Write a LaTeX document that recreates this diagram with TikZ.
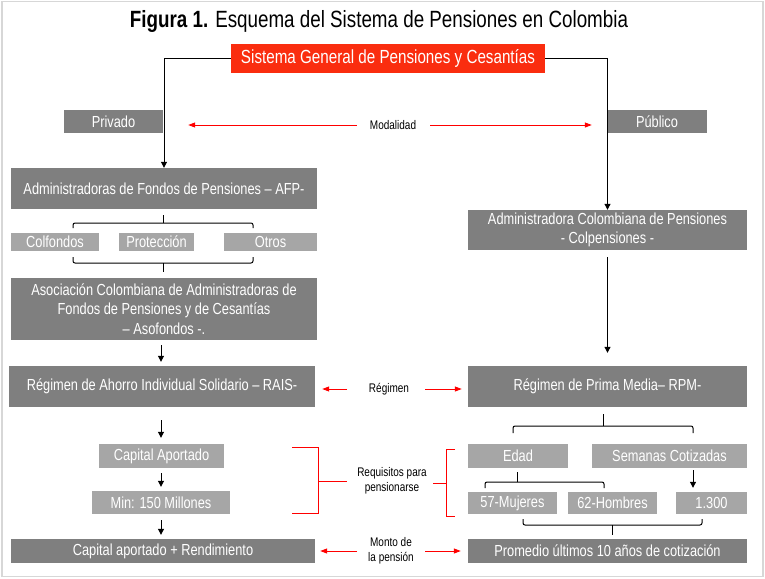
\documentclass[tikz,border=0pt]{standalone}
\usepackage{fontspec}
\setmainfont[FakeStretch=0.80]{Liberation Sans}
\usetikzlibrary{arrows.meta,calc}
\definecolor{dg}{RGB}{127,127,127}
\definecolor{lg}{RGB}{166,166,166}
\definecolor{rbox}{RGB}{250,45,15}
\definecolor{frame}{RGB}{215,215,215}
\begin{document}
\begin{tikzpicture}[x=1pt,y=-1pt,
  box/.style={fill=dg,text=white,inner sep=0pt,align=center,font=\fontsize{16}{19.5}\selectfont},
  lbox/.style={box,fill=lg},
  ln/.style={line width=1pt,black},
  arr/.style={ln,-{Triangle[length=6pt,width=6pt]}},
  rarr/.style={line width=1pt,red,-{Triangle[length=7pt,width=5pt]}},
  brk/.style={ln,rounded corners=2pt},
  rbrk/.style={line width=1pt,red},
  lab/.style={font=\fontsize{12.5}{15}\selectfont,align=center,inner sep=0pt}]
\fill[white] (0,0) rectangle (765,578);
\useasboundingbox (0,0) rectangle (765,578);
\draw[frame,line width=1.5pt] (2,1.5) rectangle (763,576.5);

% title
\node[anchor=base,font=\fontsize{23.5}{28}\selectfont,inner sep=0pt] (title) at (379,27.5) {\textbf{Figura 1.} Esquema del Sistema de Pensiones en Colombia};

% top
\node[box,fill=rbox,font=\fontsize{19}{22}\selectfont,minimum width=314pt,minimum height=29pt] (red) at (388,58.5) {Sistema General de Pensiones y Cesantías};
\node[box,minimum width=99pt,minimum height=23pt] (priv) at (113.5,121.5) {Privado};
\node[box,minimum width=100pt,minimum height=23pt] (pub) at (657,121.5) {Público};

% left column
\node[box,minimum width=306pt,minimum height=41pt] (afp) at (164,188.5) {Administradoras de Fondos de Pensiones – AFP-};
\node[lbox,minimum width=88pt,minimum height=18pt] (colf) at (55,242) {Colfondos};
\node[lbox,minimum width=75pt,minimum height=18pt] (prot) at (156.5,242) {Protección};
\node[lbox,minimum width=93pt,minimum height=18pt] (otros) at (270.5,242) {Otros};
\node[box,minimum width=306pt,minimum height=62pt] (aso) at (164,309) {Asociación Colombiana de Administradoras de\\Fondos de Pensiones y de Cesantías\\– Asofondos -.};
\node[box,minimum width=306pt,minimum height=41pt] (rais) at (162,386.5) {Régimen de Ahorro Individual Solidario – RAIS-};
\node[lbox,minimum width=125pt,minimum height=24pt] (capap) at (161.5,456) {Capital Aportado};
\node[lbox,minimum width=138pt,minimum height=23pt] (min) at (161,502.5) {Min: 150 Millones};
\node[box,minimum width=304pt,minimum height=24pt] (caprend) at (163,551) {Capital aportado + Rendimiento};

% right column
\node[box,minimum width=279pt,minimum height=40pt] (colp) at (607.5,230) {Administradora Colombiana de Pensiones\\- Colpensiones -};
\node[box,minimum width=279pt,minimum height=41pt] (rpm) at (607.5,386.5) {Régimen de Prima Media– RPM-};
\node[lbox,minimum width=100pt,minimum height=24pt] (edad) at (518,456) {Edad};
\node[lbox,minimum width=155pt,minimum height=24pt] (sem) at (669.5,456) {Semanas Cotizadas};
\node[lbox,minimum width=89pt,minimum height=22pt] (muj) at (512.5,503) {57-Mujeres};
\node[lbox,minimum width=89pt,minimum height=22pt] (hom) at (612.5,503) {62-Hombres};
\node[lbox,minimum width=71pt,minimum height=22pt] (n1300) at (711.5,503) {1.300};
\node[box,minimum width=279pt,minimum height=24pt] (prom) at (607.5,551) {Promedio últimos 10 años de cotización};

% middle labels
\node[lab] (mod) at (393,125) {Modalidad};
\node[lab] (reg) at (389,389) {Régimen};
\node[lab] (req) at (392,481) {Requisitos para\\pensionarse};
\node[lab] (mon) at (391,551) {Monto de\\la pensión};

% black connectors
\draw[arr] (red.west) -| (afp.north);
\draw[arr] (red.east) -| (colp.north);
\draw[arr] ($(colp.south)+(0,7)$) -- ($(rpm.north)+(0,-13)$);
\draw[arr] ($(aso.south -| min.north)+(0,5)$) -- ($(rais.north -| min.north)+(0,-4)$);
\draw[arr] ($(rais.south -| min.north)+(0,13)$) -- ($(capap.north -| min.north)+(0,-6)$);
\draw[arr] ($(capap.south -| min.north)+(0,5)$) -- ($(min.north)+(0,-4)$);
\draw[arr] ($(min.south)+(0,6)$) -- ($(caprend.north -| min.north)+(0,-4)$);
\coordinate (semx) at ($(sem.south)+(23.5,0)$);
\draw[arr] ($(semx)+(0,2)$) -- ($(n1300.north -| semx)+(0,-4)$);

% brackets
\draw[brk] (73,228) -- (73,223) -- (253,223) -- (253,228);
\draw[ln] (163,223) -- (163,215);
\draw[brk] (73,257) -- (73,263) -- (253,263) -- (253,257);
\draw[ln] (163,263) -- (163,272);
\draw[brk] (513,433) -- (513,426) -- (693,426) -- (693,433);
\draw[ln] (603,426) -- (603,414);
\draw[brk] (485,488) -- (485,482) -- (604,482) -- (604,488);
\draw[ln] (517,482) -- (517,472);
\draw[brk] (523,519) -- (523,525) -- (702,525) -- (702,519);
\draw[ln] (612,525) -- (612,535);

% red brackets
\draw[rbrk] (292,447) -- (318,447) -- (318,513) -- (292,513);
\draw[rbrk] (318,481) -- (347,481);
\draw[rbrk] (455,449) -- (446,449) -- (446,516) -- (455,516);
\draw[rbrk] (446,483) -- (433,483);

% red arrows
\draw[rarr] ($(mod.west)+(-13,0)$) -- ($(priv.east |- mod.west)+(25,0)$);
\draw[rarr] ($(mod.east)+(14,0)$) -- ($(pub.west |- mod.east)+(-15,0)$);
\coordinate (rgl) at (347,389);
\coordinate (rgr) at (425,389);
\draw[rarr] (rgl) -- ($(rais.east |- rgl)+(7,0)$);
\draw[rarr] (rgr) -- ($(rpm.west |- rgr)+(-6,0)$);
\coordinate (mnl) at (357,551);
\coordinate (mnr) at (425,551);
\draw[rarr] (mnl) -- ($(caprend.east)+(5,0)$);
\draw[rarr] (mnr) -- ($(prom.west)+(-7,0)$);
\end{tikzpicture}
\end{document}
